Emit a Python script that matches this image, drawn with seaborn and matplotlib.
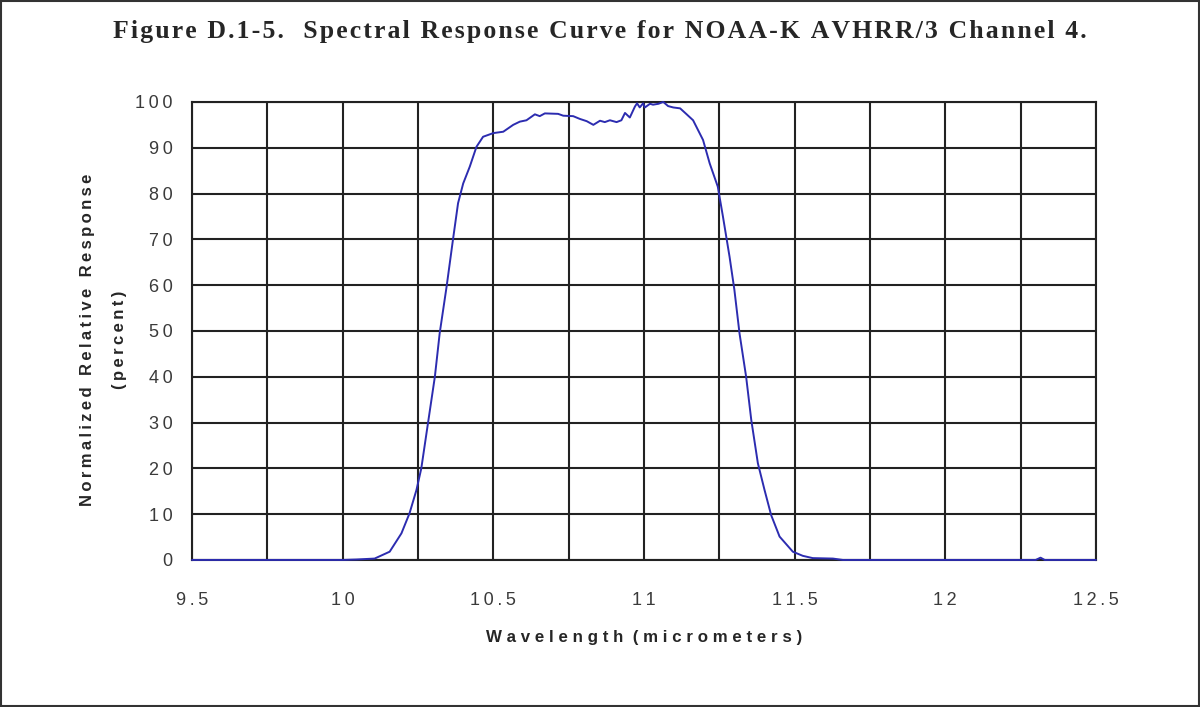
import pandas as pd
import seaborn as sns
import matplotlib.pyplot as plt
from matplotlib.ticker import MultipleLocator
from matplotlib.patches import Rectangle

# Valores (comprimento de onda em micrometros, resposta em %)
comprimento = [9.5, 10.0, 10.046, 10.106, 10.156, 10.195, 10.222, 10.245, 10.261, 10.283,
               10.306, 10.322, 10.345, 10.366, 10.383, 10.40, 10.422, 10.444, 10.466, 10.5,
               10.533, 10.566, 10.588, 10.61, 10.638, 10.654, 10.671, 10.715, 10.732, 10.765,
               10.787, 10.81, 10.832, 10.854, 10.87, 10.887, 10.909, 10.925, 10.937, 10.953,
               10.97, 10.977, 10.986, 10.997, 11.003, 11.02, 11.03, 11.048, 11.064, 11.08,
               11.097, 11.12, 11.14, 11.163, 11.196, 11.218, 11.245, 11.262, 11.284, 11.30,
               11.317, 11.339, 11.356, 11.378, 11.40, 11.422, 11.45, 11.494, 11.527, 11.56,
               11.627, 11.66, 12.30, 12.316, 12.33, 12.5]
resposta = [0, 0, 0.1, 0.3, 1.8, 5.8, 10.2, 15.3, 20.0, 29.8,
            40.0, 49.5, 59.7, 69.9, 77.9, 82.2, 85.9, 90.2, 92.4, 93.2,
            93.5, 95.0, 95.7, 96.0, 97.3, 96.9, 97.5, 97.4, 97.0, 96.9,
            96.3, 95.8, 95.0, 95.9, 95.6, 96.0, 95.6, 96.0, 97.6, 96.6,
            99.0, 99.7, 98.8, 99.7, 98.8, 99.6, 99.4, 99.6, 100.0, 99.1,
            98.8, 98.6, 97.4, 96.0, 91.7, 86.6, 81.5, 75.0, 66.2, 59.0,
            49.5, 40.0, 30.6, 21.1, 15.3, 9.8, 5.1, 1.8, 0.9, 0.4,
            0.3, 0, 0, 0.5, 0, 0]

titulo = "Figure D.1-5.  Spectral Response Curve for NOAA-K AVHRR/3 Channel 4."
rotulo_x = "Wavelength (micrometers)"
rotulo_y = "Normalized Relative Response\n(percent)"

dados = pd.DataFrame({"Wavelength": comprimento, "Response": resposta})


def espacar(texto, sep="\u2009"):
    # imita o espacamento largo entre letras do original
    return "\n".join(sep.join(linha) for linha in texto.split("\n"))


sns.set_style("white")
plt.rcParams['font.family'] = ['Liberation Sans', 'DejaVu Sans']

fig = plt.figure(figsize=(12, 7.07), dpi=100)
ax = fig.add_axes([0.16, 0.208, 0.7533, 0.6478])

sns.lineplot(data=dados, x="Wavelength", y="Response", ax=ax,
             color="#2c2cb0", linewidth=1.4, zorder=5, clip_on=False)

ax.set_xlim(9.5, 12.5)
ax.set_ylim(0, 100)
ax.xaxis.set_major_locator(MultipleLocator(0.5))
ax.xaxis.set_minor_locator(MultipleLocator(0.25))
ax.yaxis.set_major_locator(MultipleLocator(10))
ax.set_xticklabels([], minor=True)
ax.xaxis.set_major_formatter(plt.FuncFormatter(lambda v, p: espacar(f"{v:g}")))
ax.yaxis.set_major_formatter(plt.FuncFormatter(lambda v, p: espacar(f"{v:g}")))

# grade preta
ax.grid(True, which="both", axis="x", color="#222222", linewidth=1.5)
ax.grid(True, which="major", axis="y", color="#222222", linewidth=1.5)
for lado in ax.spines.values():
    lado.set_color("#222222")
    lado.set_linewidth(1.5)

ax.tick_params(axis="both", which="major", direction="out", length=6, width=1.5,
               color="#222222", labelsize=13, labelcolor="#3a3a3a", pad=8)
ax.tick_params(axis="x", which="minor", length=0)
ax.tick_params(axis="x", which="major", pad=17)

ax.set_xlabel(" ".join(rotulo_x).replace("   ", "  "), fontsize=12.2,
              fontweight="bold", labelpad=15)
ax.set_ylabel(espacar(rotulo_y), fontsize=12, fontweight="bold", linespacing=2.4)
ax.yaxis.set_label_coords(-0.072, 0.48)

fig.text(0.5, 0.955, espacar(titulo, "\u200a"), ha="center", va="center", fontsize=18.5,
         fontweight="bold", family=["Liberation Serif", "DejaVu Serif"])

# moldura da figura
fig.patches.append(Rectangle((0.001, 0.001), 0.998, 0.997, transform=fig.transFigure,
                             fill=False, edgecolor="#333333", linewidth=1.5))

plt.savefig("out.png", dpi=100)
